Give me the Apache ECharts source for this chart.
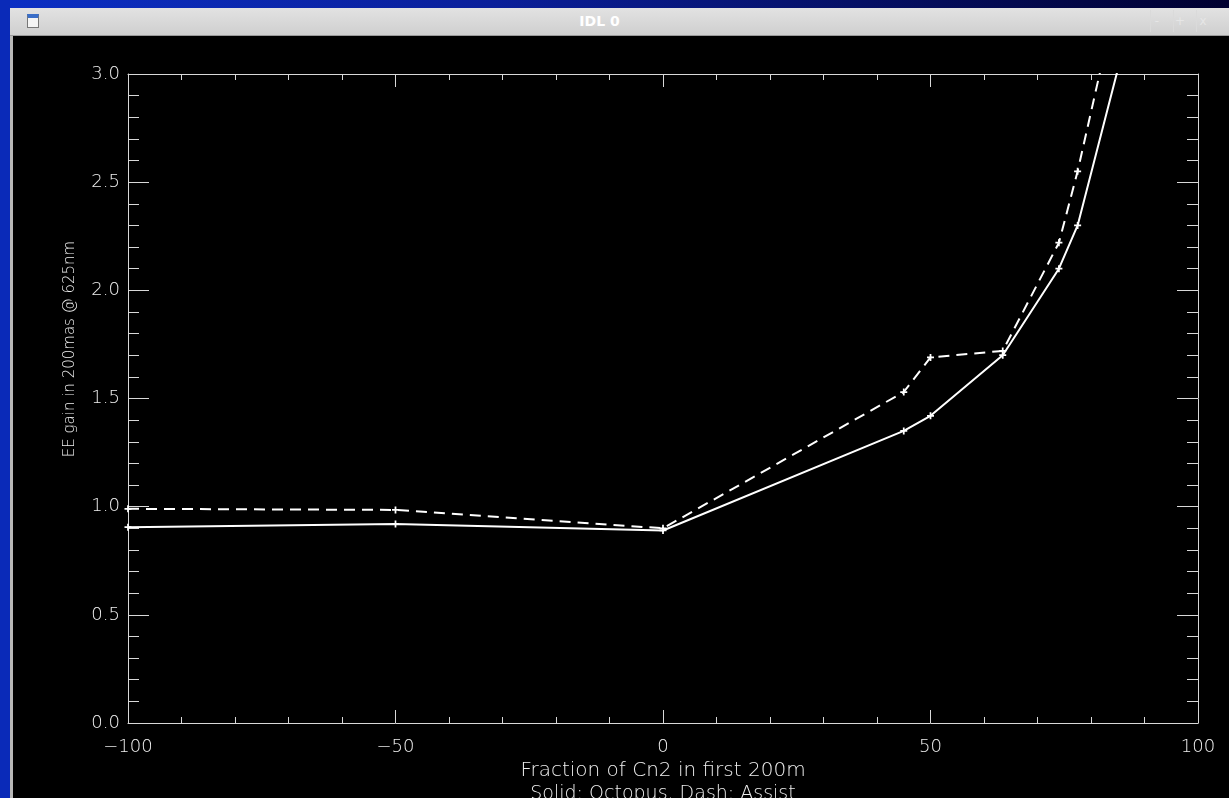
<!DOCTYPE html>
<html>
<head>
<meta charset="utf-8">
<script src="https://cdn.jsdelivr.net/npm/echarts@6/dist/echarts.min.js"></script>
<style>
  html, body { margin: 0; padding: 0; width: 1229px; height: 798px; overflow: hidden; }
  body { background: linear-gradient(90deg, #0b2fc4 0%, #0a1f9a 40%, #000030 100%); position: relative; font-family: 'DejaVu Sans', sans-serif; }
  #side { position: absolute; left: 0; top: 0; width: 10px; height: 798px; background: #0a2ab8; }
  #titlebar { position: absolute; left: 10px; top: 8px; width: 1219px; height: 28px;
    background: linear-gradient(#e2e2e2, #cfcfcf); border-bottom: 1px solid #9a9a9a; box-sizing: border-box; }
  #titlebar .t { position: absolute; left: 0; right: 40px; top: 5px; text-align: center; color: #fff; font-weight: bold; font-size: 14px; }
  #icon { position: absolute; left: 17px; top: 6px; width: 12px; height: 14px; background: #f4f4f4; border: 1px solid #777; border-top: 4px solid #3a6ec8; box-sizing: border-box; }
  .btn { position: absolute; top: 2px; width: 12px; height: 22px; border-left: 1px solid #dadada; color: #e6e6e6; font-size: 12px; text-align: center; line-height: 22px; }
  #frame { position: absolute; left: 10px; top: 36px; width: 1219px; height: 762px; background: #b8b8b8; }
  #chart { position: absolute; left: 13px; top: 36px; width: 1216px; height: 762px; background: #000; }
</style>
</head>
<body>
<div id="side"></div>
<div id="titlebar">
  <div id="icon"></div>
  <div class="t">IDL 0</div>
  <div class="btn" style="left:1140px">-</div>
  <div class="btn" style="left:1163px">+</div>
  <div class="btn" style="left:1186px">x</div>
</div>
<div id="frame"></div>
<div id="chart"></div>
<script>
// Solid: Octopus, Dash: Assist
var fractionX = [-100, -50, 0, 45, 50, 63.5, 74, 77.5, 90];
var octopusGain = [0.905, 0.92, 0.89, 1.35, 1.42, 1.70, 2.10, 2.30, 3.50];
var assistGain = [0.99, 0.985, 0.90, 1.53, 1.69, 1.72, 2.22, 2.55, 3.92];

var xTicks = { min: -100, max: 100, interval: 50 };
var yTicks = { min: 0, max: 3, interval: 0.5 };

function pairs(xs, ys) {
  return xs.map(function (x, i) { return [x, ys[i]]; });
}

var fg = '#eeeeee';
var axisColor = '#d8d8d8';
var font = 'DejaVu Sans';
var plus = 'path://M3,0H5V3H8V5H5V8H3V5H0V3H3Z';

function xAxisOf(pos, showLabel) {
  return {
    type: 'value', position: pos, min: xTicks.min, max: xTicks.max, interval: xTicks.interval,
    axisLine: { show: true, onZero: false, lineStyle: { color: axisColor, width: 1 } },
    axisTick: { show: true, inside: true, length: 13, lineStyle: { color: axisColor } },
    minorTick: { show: true, splitNumber: 5, length: 6, lineStyle: { color: axisColor } },
    splitLine: { show: false },
    axisLabel: { show: showLabel, margin: 15, color: fg, fontSize: 18,
      fontFamily: font, fontWeight: 300,
      formatter: function (v) { return String(v).replace('-', '\u2212'); } },
    name: showLabel ? 'Fraction of Cn2 in first 200m' : '',
    nameLocation: 'middle', nameGap: 37,
    nameTextStyle: { color: fg, fontSize: 20, fontFamily: font, fontWeight: 300 }
  };
}

function yAxisOf(pos, showLabel) {
  return {
    type: 'value', position: pos, min: yTicks.min, max: yTicks.max, interval: yTicks.interval,
    axisLine: { show: true, onZero: false, lineStyle: { color: axisColor, width: 1 } },
    axisTick: { show: true, inside: true, length: 21, lineStyle: { color: axisColor } },
    minorTick: { show: true, splitNumber: 5, length: 11, lineStyle: { color: axisColor } },
    splitLine: { show: false },
    axisLabel: { show: showLabel, margin: 8, color: fg, fontSize: 18, fontFamily: font,
      fontWeight: 300, formatter: function (v) { return v.toFixed(1); } }
  };
}

var chart = echarts.init(document.getElementById('chart'), null, { renderer: 'canvas' });
chart.setOption({
  backgroundColor: '#000',
  animation: false,
  grid: { left: 115, top: 38, right: 31, bottom: 75 },
  xAxis: [xAxisOf('bottom', true), xAxisOf('top', false)],
  yAxis: [yAxisOf('left', true), yAxisOf('right', false)],
  graphic: [
    {
      type: 'text', x: 57, y: 313, rotation: Math.PI / 2,
      style: { text: 'EE gain in 200mas @ 625nm', fill: fg, fontSize: 15, fontFamily: font, fontWeight: 300,
        align: 'center', verticalAlign: 'middle' }
    },
    {
      type: 'text', x: 650, y: 749,
      style: { text: 'Solid: Octopus, Dash: Assist', fill: fg, fontSize: 19, fontFamily: font, fontWeight: 300,
        align: 'center', verticalAlign: 'top' }
    }
  ],
  series: [
    {
      name: 'Octopus', type: 'line', xAxisIndex: 0, yAxisIndex: 0,
      data: pairs(fractionX, octopusGain),
      clip: true, symbol: plus, symbolSize: 7,
      itemStyle: { color: '#fff' },
      lineStyle: { color: '#fff', width: 2, type: 'solid' }
    },
    {
      name: 'Assist', type: 'line', xAxisIndex: 0, yAxisIndex: 0,
      data: pairs(fractionX, assistGain),
      clip: true, symbol: plus, symbolSize: 7,
      itemStyle: { color: '#fff' },
      lineStyle: { color: '#fff', width: 2, type: [11, 7] }
    }
  ]
});
</script>
</body>
</html>
